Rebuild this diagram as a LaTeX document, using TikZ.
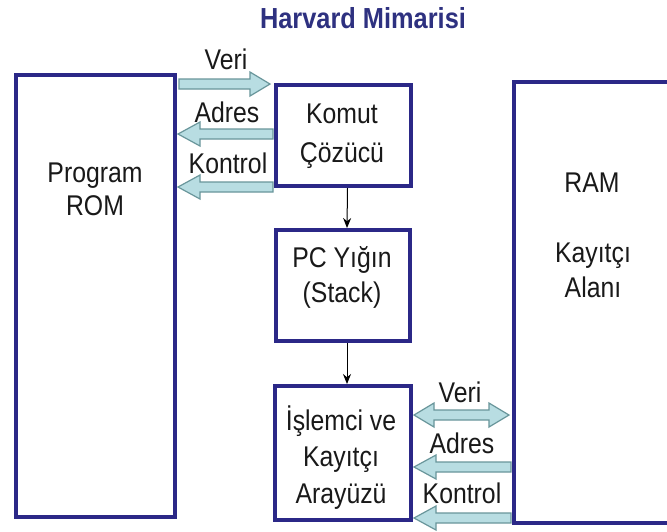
\documentclass[tikz,border=0pt]{standalone}
\usepackage{fontspec}
\setmainfont{Liberation Sans}[FakeStretch=0.87]
\newfontfamily\titlefont{Liberation Sans}[FakeStretch=0.875]
\usetikzlibrary{calc,backgrounds,arrows.meta}
\definecolor{navy}{RGB}{43,40,135}
\definecolor{titlecol}{RGB}{46,49,128}
\definecolor{txt}{RGB}{25,25,25}
\definecolor{fatfill}{RGB}{184,221,226}
\definecolor{fatline}{RGB}{105,150,155}
\newcommand\fatR[2]{\filldraw[fat] ($(#1)+(0,-5)$) -- ($(#2)+(-20,-5)$) -- ($(#2)+(-20,-12)$) -- (#2) -- ($(#2)+(-20,12)$) -- ($(#2)+(-20,5)$) -- ($(#1)+(0,5)$) -- cycle;}
\newcommand\fatL[2]{\filldraw[fat] ($(#1)+(0,-5)$) -- ($(#2)+(22,-5)$) -- ($(#2)+(22,-12)$) -- (#2) -- ($(#2)+(22,12)$) -- ($(#2)+(22,5)$) -- ($(#1)+(0,5)$) -- cycle;}
\newcommand\fatB[2]{\filldraw[fat] (#1) -- ($(#1)+(20,-12)$) -- ($(#1)+(20,-5)$) -- ($(#2)+(-20,-5)$) -- ($(#2)+(-20,-12)$) -- (#2) -- ($(#2)+(-20,12)$) -- ($(#2)+(-20,5)$) -- ($(#1)+(20,5)$) -- ($(#1)+(20,12)$) -- cycle;}
\begin{document}
\begin{tikzpicture}[x=1pt,y=-1pt,
  box/.style={draw=navy,line width=4pt,fill=white,inner sep=0pt},
  lbl/.style={anchor=base,text=txt,font=\fontsize{28.5}{32}\selectfont,inner sep=0pt},
  fat/.style={fill=fatfill,draw=fatline,line width=1.2pt,line join=miter},
  flow/.style={-{Stealth[length=10pt,width=8pt]},line width=1pt,black}]
\useasboundingbox (0,0) rectangle (667,531);
\begin{scope}[on background layer]
  \fill[white] (0,0) rectangle (667,531);
\end{scope}

% boxes
\node[box,minimum width=159,minimum height=442] (rom) at (95.5,296) {};
\node[box,minimum width=135,minimum height=101] (komut) at (343.5,135.5) {};
\node[box,minimum width=134,minimum height=111] (pc) at (343,285.5) {};
\node[box,minimum width=136,minimum height=134] (isl) at (343,453) {};
\node[box,minimum width=176,minimum height=441] (ram) at (602,302.5) {};

% title
\node[anchor=base,inner sep=0pt,text=titlecol,font=\titlefont\bfseries\fontsize{29}{32}\selectfont] (title) at (363,28) {Harvard Mimarisi};

% box texts
\node[lbl] (rom1) at (95,182) {Program};
\node[lbl] (rom2) at (95,215) {ROM};
\node[lbl] (k1) at (342,123) {Komut};
\node[lbl] (k2) at (342,162) {Çözücü};
\node[lbl] (p1) at (342,267) {PC Yığın};
\node[lbl] (p2) at (342,302) {(Stack)};
\node[lbl] (i1) at (341,430) {İşlemci ve};
\node[lbl] (i2) at (341,466) {Kayıtçı};
\node[lbl] (i3) at (341,503) {Arayüzü};
\node[lbl] (r1) at (592,192) {RAM};
\node[lbl] (r2) at (593,262) {Kayıtçı};
\node[lbl] (r3) at (593,297) {Alanı};

% connector labels
\node[lbl] (tv) at (226,69) {Veri};
\node[lbl] (ta) at (227,122) {Adres};
\node[lbl] (tk) at (228,173) {Kontrol};
\node[lbl] (bv) at (460,402) {Veri};
\node[lbl] (ba) at (462,453) {Adres};
\node[lbl] (bk) at (462,503) {Kontrol};

% coordinates for the wide arrows
\path (rom.east |- 0,84) ++(2,0) coordinate (t1a);
\path (komut.west |- 0,84) ++(-4,0) coordinate (t1b);
\path (komut.west |- 0,134) ++(-1,0) coordinate (t2a);
\path (rom.east |- 0,134) ++(1,0) coordinate (t2b);
\path (komut.west |- 0,187) ++(-1,0) coordinate (t3a);
\path (rom.east |- 0,187) ++(1,0) coordinate (t3b);
\path (isl.east |- 0,415) ++(1,0) coordinate (b1a);
\path (ram.west |- 0,415) ++(-3,0) coordinate (b1b);
\path (ram.west |- 0,467) ++(-1,0) coordinate (b2a);
\path (isl.east |- 0,467) ++(1,0) coordinate (b2b);
\path (ram.west |- 0,518) ++(-1,0) coordinate (b3a);
\path (isl.east |- 0,518) ++(1,0) coordinate (b3b);

\begin{scope}[on background layer]
  \fatR{t1a}{t1b}
  \fatL{t2a}{t2b}
  \fatL{t3a}{t3b}
  \fatB{b1a}{b1b}
  \fatL{b2a}{b2b}
  \fatL{b3a}{b3b}
\end{scope}

% thin flow arrows
\draw[flow] ([xshift=4pt]komut.south) -- ([xshift=4pt]pc.north);
\draw[flow] ([xshift=4pt]pc.south) -- ([xshift=4pt]isl.north);
\end{tikzpicture}
\end{document}
